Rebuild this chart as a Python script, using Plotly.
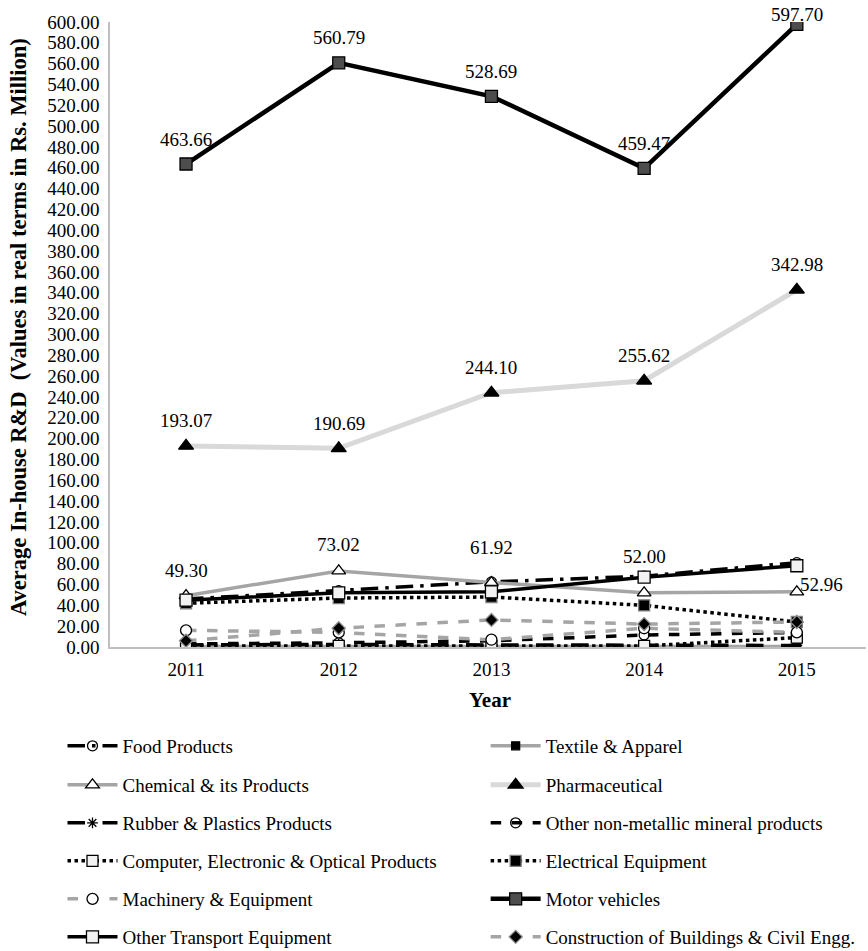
import plotly.graph_objects as go

years = [2011, 2012, 2013, 2014, 2015]
year_labels = ["2011", "2012", "2013", "2014", "2015"]

food_products = [46.0, 54.0, 62.5, 68.0, 81.0]
textile_apparel = [0.5, 0.5, 0.5, 0.5, 0.5]
chemical_products = [49.30, 73.02, 61.92, 52.00, 52.96]
pharmaceutical = [193.07, 190.69, 244.10, 255.62, 342.98]
rubber_plastics = [2.0, 2.5, 2.0, 2.0, 1.5]
non_metallic = [3.0, 4.0, 6.0, 11.5, 14.0]
computer_electronic = [1.0, 1.0, 1.0, 1.0, 9.0]
electrical_equipment = [42.0, 47.0, 48.0, 40.0, 24.0]
machinery_equipment = [16.0, 14.0, 7.0, 18.0, 14.0]
motor_vehicles = [463.66, 560.79, 528.69, 459.47, 597.70]
other_transport = [45.0, 52.0, 53.0, 67.0, 78.0]
construction = [6.0, 18.0, 26.0, 22.0, 24.0]

y_ticks = list(range(0, 601, 20))

FONT = "Liberation Serif, Times New Roman, serif"
GRAY = "#a5a5a5"
LIGHT = "#d9d9d9"

# plot area in pixels
PLOT_L, PLOT_R, PLOT_T, PLOT_B = 110, 866, 22, 647
PLOT_W, PLOT_H = PLOT_R - PLOT_L, PLOT_B - PLOT_T

# (name, values, line color, width, dash, marker symbol, marker fill, marker edge, size)
series = [
    ("Food Products", food_products, "black", 3.5, "longdashdot", "circle-open", "black", "black", 10),
    ("Textile & Apparel", textile_apparel, GRAY, 3.5, "solid", "square", "black", "black", 8),
    ("Chemical & its Products", chemical_products, GRAY, 3.5, "solid", "triangle-up", "white", "black", 12),
    ("Pharmaceutical", pharmaceutical, LIGHT, 5, "solid", "triangle-up", "black", "black", 13),
    ("Rubber & Plastics Products", rubber_plastics, "black", 3.5, "longdash", "asterisk-open", "black", "black", 9),
    ("Other non-metallic mineral products", non_metallic, "black", 3.5, "dash", "circle-open", "black", "black", 10),
    ("Computer, Electronic & Optical Products", computer_electronic, "black", 3.5, "dot", "square", "#f2f2f2", "black", 11),
    ("Electrical Equipment", electrical_equipment, "black", 3.5, "dot", "square", "black", "#7f7f7f", 11),
    ("Machinery & Equipment", machinery_equipment, GRAY, 3.5, "dash", "circle", "white", "black", 11),
    ("Motor vehicles", motor_vehicles, "black", 4.5, "solid", "square", "#4d4d4d", "black", 12),
    ("Other Transport Equipment", other_transport, "black", 3.5, "solid", "square", "#f2f2f2", "black", 12),
    ("Construction of Buildings & Civil Engg.", construction, GRAY, 3.5, "dash", "diamond", "black", "#8c8c8c", 10),
]

# legend grid: two columns, six rows (row-major order), one legend box per entry
legend_x = [0.072, 0.5595]
legend_rows_px = [746, 785, 823, 861, 899, 937]

fig = go.Figure()
layout_legends = {}
for i, (name, vals, lc, lw, dash, sym, fill, edge, size) in enumerate(series):
    key = f"legend{i + 2}"
    fig.add_trace(go.Scatter(
        x=years, y=vals, name=name, mode="lines+markers",
        line=dict(color=lc, width=lw, dash=dash),
        marker=dict(symbol=sym, color=fill, size=size,
                    line=dict(color=edge, width=1.3)),
        legend=key,
    ))
    row, col = divmod(i, 2)
    layout_legends[key] = dict(
        x=legend_x[col], xref="container", xanchor="left",
        y=1 - legend_rows_px[row] / 951, yref="container", yanchor="middle",
        font=dict(family=FONT, size=19, color="black"),
        bgcolor="rgba(0,0,0,0)", itemwidth=50,
    )

# value labels for the two leading series and the chemical series
annotations = []
for v, yr in zip(motor_vehicles, years):
    annotations.append(dict(x=yr, y=v, text=f"{v:.2f}", showarrow=False,
                            yshift=25 if v < 590 else 10))
for v, yr in zip(pharmaceutical, years):
    annotations.append(dict(x=yr, y=v, text=f"{v:.2f}", showarrow=False, yshift=25))
chem_shift = [25, 26, 35, 36, 7]
for k, (v, yr) in enumerate(zip(chemical_products, years)):
    if k == 4:
        annotations.append(dict(x=yr, y=v, text=f"{v:.2f}", showarrow=False,
                                xanchor="left", xshift=1, yshift=chem_shift[k]))
    else:
        annotations.append(dict(x=yr, y=v, text=f"{v:.2f}", showarrow=False,
                                yshift=chem_shift[k]))
for a in annotations:
    a["font"] = dict(family=FONT, size=19, color="black")

# axis titles
annotations.append(dict(
    text="<b>Average In-house R&D  (Values in real terms in Rs. Million)</b>",
    xref="paper", yref="paper", x=(18 - PLOT_L) / PLOT_W, y=(PLOT_B - 327) / PLOT_H,
    xanchor="center", yanchor="middle", textangle=-90, showarrow=False,
    font=dict(family=FONT, size=22.5, color="black"),
))
annotations.append(dict(
    text="<b>Year</b>",
    xref="paper", yref="paper", x=(490 - PLOT_L) / PLOT_W, y=(PLOT_B - 700) / PLOT_H,
    xanchor="center", yanchor="middle", showarrow=False,
    font=dict(family=FONT, size=21, color="black"),
))

fig.update_layout(
    width=868, height=951,
    margin=dict(l=PLOT_L, r=868 - PLOT_R, t=PLOT_T, b=951 - PLOT_B, autoexpand=False),
    paper_bgcolor="white", plot_bgcolor="white",
    font=dict(family=FONT, size=19, color="black"),
    annotations=annotations,
    legend=dict(visible=False),
    xaxis=dict(
        range=[2010.502, 2015.453], tickvals=years, ticktext=year_labels,
        showgrid=False, zeroline=False, showline=True, linecolor="#bfbfbf",
        linewidth=1.5, ticks="", tickfont=dict(family=FONT, size=19),
        ticklabelstandoff=4,
    ),
    yaxis=dict(
        range=[0, 600], tickvals=y_ticks, ticktext=[f"{t:.2f}" for t in y_ticks],
        showgrid=False, zeroline=False, showline=True, linecolor="#bfbfbf",
        linewidth=1.5, ticks="", tickfont=dict(family=FONT, size=19),
        ticklabelstandoff=5,
    ),
    **layout_legends,
)

fig.write_html("out.html")
